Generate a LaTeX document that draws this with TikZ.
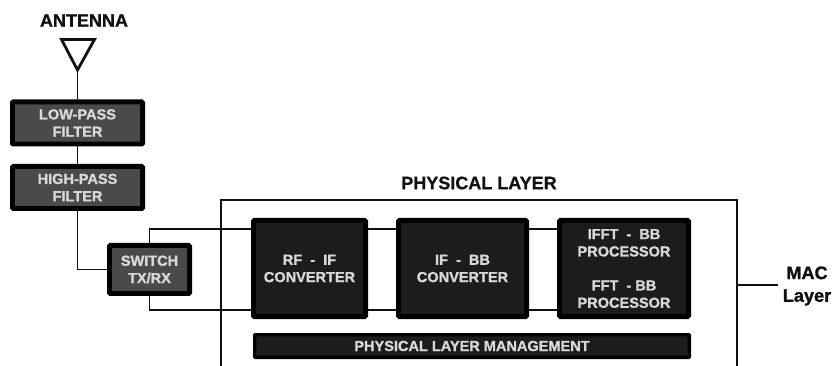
\documentclass[tikz,border=0pt]{standalone}
\usepackage{fontspec}
\setmainfont{Liberation Sans}
\definecolor{midbox}{HTML}{4A4A4A}
\definecolor{darkbox}{HTML}{1C1C1C}
\definecolor{boxtext}{HTML}{D8D8D8}
\definecolor{inkline}{HTML}{111111}
\newcommand{\boxfont}{\fontsize{10.9}{13}\selectfont\bfseries\addfontfeature{FakeBold=1.3}}
\tikzset{
  x=0.75pt,y=-0.75pt,
  block/.style={draw=black,line width=3.6pt,rounded corners=0.8pt,align=center,text=boxtext,
    font=\boxfont,inner sep=0pt},
  graybox/.style={block,fill=midbox,minimum width=97.65pt,minimum height=31.65pt},
  switchbox/.style={block,fill=midbox,minimum width=60.15pt,minimum height=36.15pt},
  darkblock/.style={block,fill=darkbox,minimum height=72.15pt},
  mgmt/.style={draw=black,line width=2.6pt,fill=darkbox,text=boxtext,rounded corners=0.5pt,inner sep=0pt,
    font=\boxfont,minimum width=325.9pt,minimum height=16.9pt},
  label/.style={text=inkline,font=\fontsize{13.5}{15}\selectfont\bfseries\addfontfeature{FakeBold=0.8},inner sep=0pt,align=center},
  maclabel/.style={label,font=\fontsize{13.6}{17}\selectfont\bfseries\addfontfeature{FakeBold=1.2}},
  wire/.style={draw=inkline,line width=1.1pt},
  frame/.style={draw=inkline,line width=1.1pt},
  aerial/.style={draw=inkline,line width=2.1pt,line join=miter},
}
\begin{document}
\begin{tikzpicture}
\useasboundingbox (0,0) rectangle (834,366);
\fill[white] (0,0) rectangle (834,366);

% physical layer frame (open at the bottom)
\coordinate (fbl) at (221,366);
\coordinate (ftl) at (221,200);
\coordinate (ftr) at (737,200);
\coordinate (fbr) at (737,366);
\coordinate (macjoin) at (737,285);
\coordinate (macend) at (778,285);
\coordinate (upper) at (0,229);
\coordinate (lower) at (0,310);

% nodes
\node[label] (ant) at (84,20.5) {ANTENNA};
\coordinate (tl) at (61.5,39.5);
\coordinate (tr) at (94.5,39.5);
\coordinate (apex) at (77.5,70);
\node[graybox] (lp) at (77.5,123) {LOW-PASS\\FILTER};
\node[graybox] (hp) at (77.5,187.5) {HIGH-PASS\\FILTER};
\node[switchbox] (sw) at (149.5,269.5) {SWITCH\\TX/RX};
\node[darkblock,minimum width=84.15pt] (rf) at (309.5,268.5) {RF\ \ -\ \ IF\\CONVERTER};
\node[darkblock,minimum width=96.15pt] (ifb) at (462.5,268.5) {IF\ \ -\ \ BB\\CONVERTER};
\node[darkblock,minimum width=96.9pt] (fft) at (624,268.5) {IFFT\ \ -\ \ BB\\PROCESSOR\\[12.5pt]FFT\ \ -\ BB\\PROCESSOR};
\node[mgmt] (plm) at (472,346) {PHYSICAL LAYER MANAGEMENT};
\node[label] (phy) at (479,183) {PHYSICAL LAYER};
\node[maclabel] (mac) at (807,286) {MAC\\Layer};

% frame
\draw[frame] (fbl) -- (ftl) -- (ftr) -- (fbr);
\draw[frame,line width=1.3pt] (macjoin) -- (macend);

% connectors
\draw[aerial] (tl) -- (tr) -- (apex) -- cycle;
\draw[wire] (apex) -- (lp.north);
\draw[wire] (lp.south) -- (hp.north);
\draw[wire] (hp.south) -- (hp.south |- sw.west) -- (sw.west);
\draw[wire] (sw.north) -- (sw.north |- upper) -- (rf.west |- upper);
\draw[wire] (sw.south) -- (sw.south |- lower) -- (rf.west |- lower);
\draw[wire] (rf.east |- upper) -- (ifb.west |- upper);
\draw[wire] (rf.east |- lower) -- (ifb.west |- lower);
\draw[wire] (ifb.east |- upper) -- (fft.west |- upper);
\draw[wire] (ifb.east |- lower) -- (fft.west |- lower);
\end{tikzpicture}
\end{document}
